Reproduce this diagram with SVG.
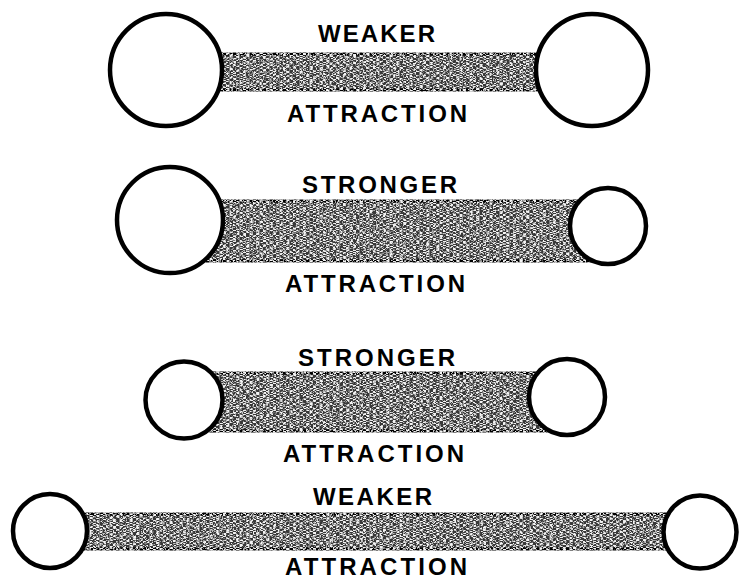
<svg xmlns="http://www.w3.org/2000/svg" width="739" height="579" viewBox="0 0 739 579">
<style>
.atom{fill:#fff;stroke:#000;stroke-width:4.5}
.bond{fill:#383838;stroke:#000;stroke-width:3;filter:url(#grain)}
.lbl{font-family:"Liberation Sans",Arial,sans-serif;font-weight:bold;font-size:24px;fill:#000}
</style>
<defs>
<filter id="grain" x="-2%" y="-10%" width="104%" height="120%">
<feTurbulence type="fractalNoise" baseFrequency="0.3 1.0" numOctaves="3" seed="7" result="n"/>
<feColorMatrix in="n" type="matrix" values="0 0 0 0 0.9  0 0 0 0 0.9  0 0 0 0 0.9  7 0 0 0 -3.3" result="speck"/>
<feComposite in="speck" in2="SourceGraphic" operator="in" result="sp2"/>
<feMerge><feMergeNode in="SourceGraphic"/><feMergeNode in="sp2"/></feMerge>
</filter>
</defs>
<rect width="739" height="579" fill="#fff"/>
<g id="connectors">
<rect class="bond" x="200" y="54" width="360" height="36"/>
<rect class="bond" x="200" y="201" width="400" height="60"/>
<rect class="bond" x="175" y="373" width="385" height="58"/>
<rect class="bond" x="70" y="514" width="610" height="35"/>
</g>
<g id="labels">
<text class="lbl" x="318" y="42" textLength="117" lengthAdjust="spacing">WEAKER</text>
<text class="lbl" x="287" y="122" textLength="180" lengthAdjust="spacing">ATTRACTION</text>
<text class="lbl" x="302" y="193" textLength="155" lengthAdjust="spacing">STRONGER</text>
<text class="lbl" x="285" y="292" textLength="180" lengthAdjust="spacing">ATTRACTION</text>
<text class="lbl" x="298" y="366" textLength="157" lengthAdjust="spacing">STRONGER</text>
<text class="lbl" x="283" y="462" textLength="181" lengthAdjust="spacing">ATTRACTION</text>
<text class="lbl" x="313" y="505" textLength="119" lengthAdjust="spacing">WEAKER</text>
<text class="lbl" x="285" y="575" textLength="182" lengthAdjust="spacing">ATTRACTION</text>
</g>
<g id="row1-left"><circle class="atom" cx="166" cy="70" r="56"/></g>
<g id="row1-right"><circle class="atom" cx="592" cy="70" r="56"/></g>
<g id="row2-left"><circle class="atom" cx="170" cy="220" r="53"/></g>
<g id="row2-right"><circle class="atom" cx="608" cy="226" r="38"/></g>
<g id="row3-left"><circle class="atom" cx="184" cy="400" r="38.5"/></g>
<g id="row3-right"><circle class="atom" cx="567" cy="397" r="38"/></g>
<g id="row4-left"><circle class="atom" cx="50" cy="531" r="37"/></g>
<g id="row4-right"><circle class="atom" cx="700" cy="532" r="36.5"/></g>
</svg>
